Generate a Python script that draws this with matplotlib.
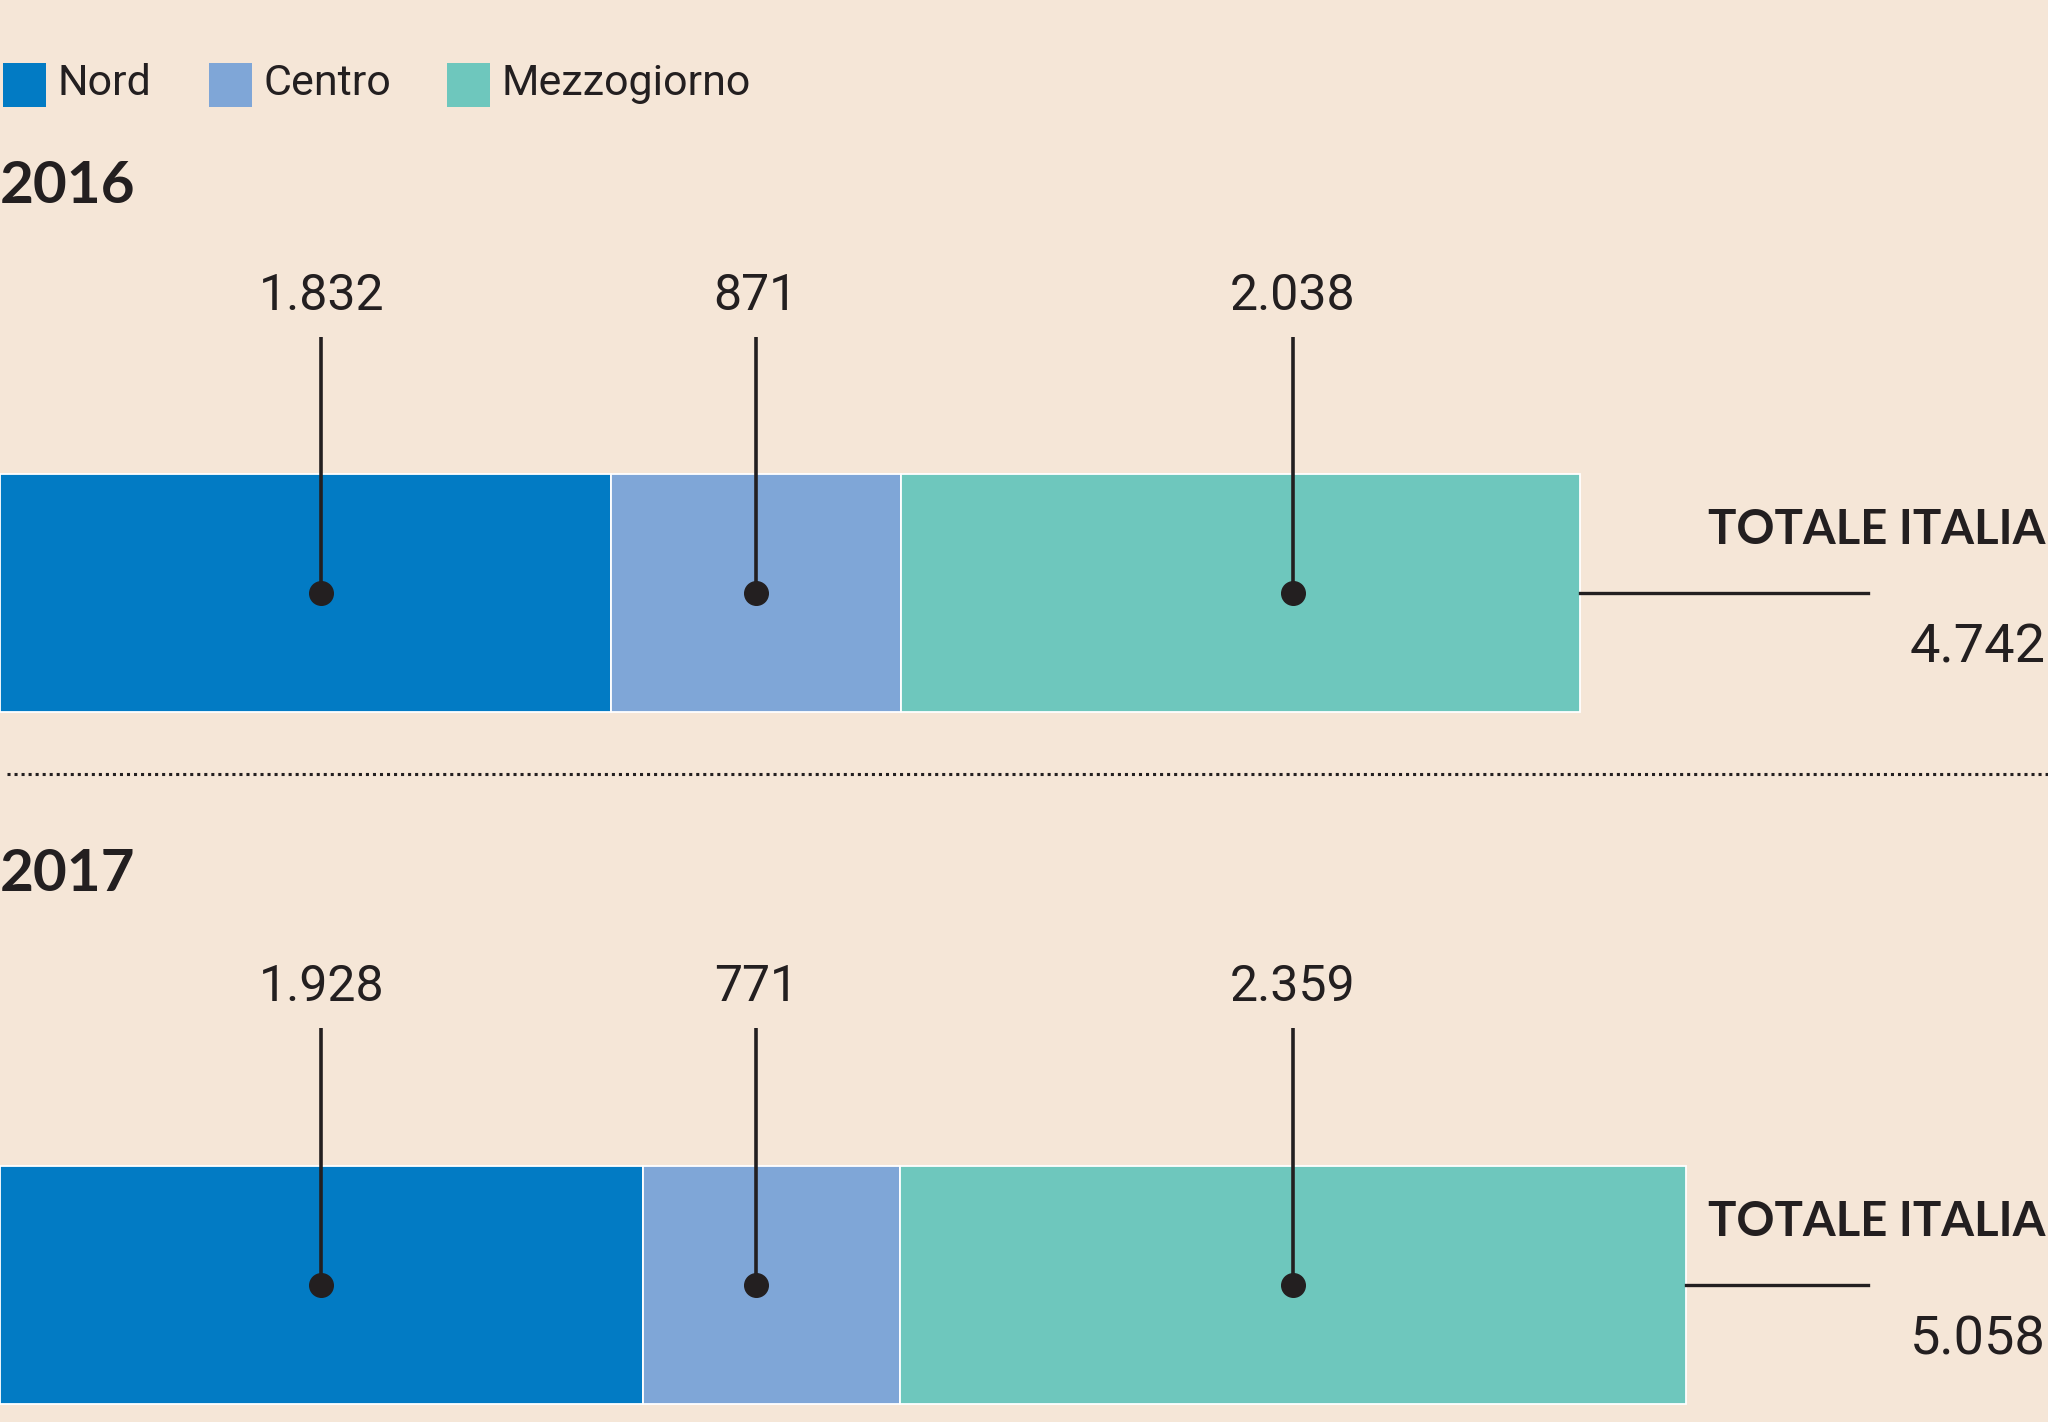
import numpy as np
import matplotlib.pyplot as plt
from matplotlib.patches import Rectangle

years = ["2016", "2017"]
regions = ["Nord", "Centro", "Mezzogiorno"]
values_2016 = [1832, 871, 2038]
values_2017 = [1928, 771, 2359]
totals = [4742, 5058]
colors = ["#027bc4", "#7fa6d7", "#6ec7bd"]

bg = "#f5e6d7"
ink = "#231f20"


def fmt(v):
    return f"{v:,}".replace(",", ".")


# layout in "reference pixels" (1568 x 1089), x scaled in data units
W, H = 1568, 1089
scale = 1210 / totals[0]          # px per unit
row_y = [454, 984]                # bar centre
bar_h = 182
title_y = [143, 670]
label_y = [227, 756]
line_top = [258, 787]

fig = plt.figure(figsize=(20.48, 14.22), dpi=100, facecolor=bg)
ax = fig.add_axes([0, 0, 1, 1])
ax.set_facecolor(bg)
ax.set_xlim(0, W / scale)
ax.set_ylim(H, 0)
ax.axis("off")

data = np.array([values_2016, values_2017])
starts = np.cumsum(data, axis=1) - data
centers = starts + data / 2
# leader lines sit on the centre of each region's larger segment
anchor = centers[np.argmax(data, axis=0), np.arange(len(regions))]

for i, year in enumerate(years):
    ax.barh(row_y[i], data[i], left=starts[i], height=bar_h, color=colors,
            edgecolor="white", linewidth=1.3)
    ax.text(0, title_y[i], year, fontsize=42, fontweight="bold", family="Lato",
            color=ink, ha="left", va="center")
    for j in range(len(regions)):
        ax.plot([anchor[j], anchor[j]], [line_top[i], row_y[i]], color=ink, lw=2.6,
                solid_capstyle="butt")
        ax.plot(anchor[j], row_y[i], "o", color=ink, ms=17)
        ax.text(anchor[j], label_y[i], fmt(data[i][j]), fontsize=36, family="Roboto",
                color=ink, ha="center", va="center")
    # totale
    tot = data[i].sum()
    ax.plot([tot, 1430 / scale], [row_y[i], row_y[i]], color=ink, lw=2.4)
    ax.text(1566 / scale, row_y[i] - 48, "TOTALE ITALIA", fontsize=34, fontweight="bold",
            family="Lato", color=ink, ha="right", va="center")
    ax.text(1566 / scale, row_y[i] + 42, fmt(totals[i]), fontsize=39, family="Roboto",
            color=ink, ha="right", va="center")

# dotted separator
ax.plot([5 / scale, W / scale], [593, 593], color=ink, lw=2.2, linestyle=(0, (1, 1.3)))

# legend
leg_x = [2, 160, 342]
for j, name in enumerate(regions):
    ax.add_patch(Rectangle((leg_x[j] / scale, 48), 33 / scale, 34, color=colors[j], lw=0))
    ax.text((leg_x[j] + 42) / scale, 64, name, fontsize=31, family="Roboto",
            color=ink, ha="left", va="center")

fig.savefig("out.png", dpi=100, facecolor=bg)
